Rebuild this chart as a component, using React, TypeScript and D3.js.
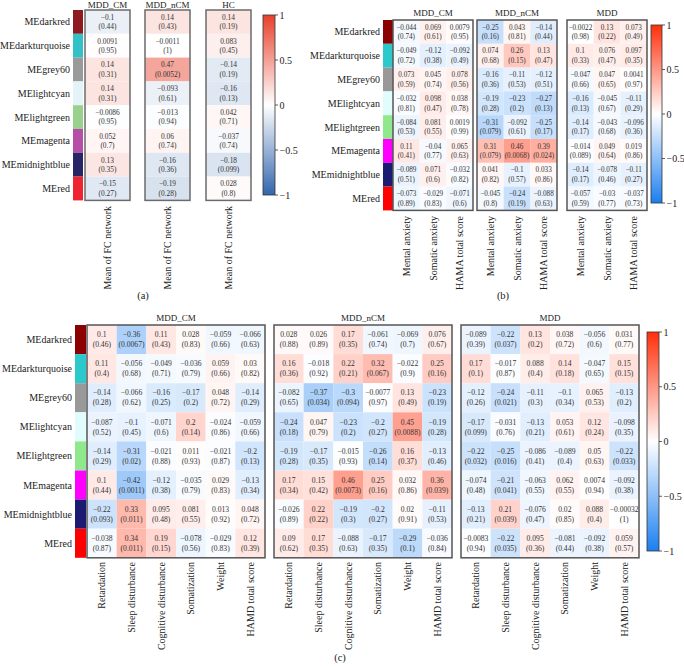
import { useEffect, useRef } from 'react';
import * as d3 from 'd3';

// Module eigengenes (rows) and their colour stripes
const modules = ["MEdarkred", "MEdarkturquoise", "MEgrey60", "MElightcyan", "MElightgreen", "MEmagenta", "MEmidnightblue", "MEred"];
const moduleColorsA = ["#8c1a1e", "#33c1c8", "#9a9a9a", "#e3f3f8", "#99d18c", "#b64ea8", "#272566", "#ee2530"];
const moduleColors = ["#8b0000", "#2bc9cc", "#999999", "#e0fcfc", "#8fe88c", "#ff00ff", "#1b1b72", "#ff0000"];

const groupsA = ["MDD_CM", "MDD_nCM", "HC"];
const groupsBC = ["MDD_CM", "MDD_nCM", "MDD"];

const fcItems = ["Mean of FC network"];
const hamaItems = ["Mental anxiety", "Somatic anxiety", "HAMA total score"];
const hamdItems = ["Retardation", "Sleep disturbance", "Cognitive disturbance", "Somatization", "Weight", "HAMD total score"];

const ticks = [1, 0.5, 0, -0.5, -1];

// (a) correlation with mean FC network, [group][module]
const fcR = [
  [-0.1, 0.0091, 0.14, 0.14, -0.0086, 0.052, 0.13, -0.15],
  [0.14, -0.0011, 0.47, -0.093, -0.013, 0.06, -0.16, -0.19],
  [0.14, 0.083, -0.14, -0.16, 0.042, -0.037, -0.18, 0.028],
];
const fcP = [
  [0.44, 0.95, 0.31, 0.31, 0.95, 0.7, 0.35, 0.27],
  [0.43, 1, 0.0052, 0.61, 0.94, 0.74, 0.36, 0.28],
  [0.19, 0.45, 0.19, 0.13, 0.71, 0.74, 0.099, 0.8],
];

// (b) HAMA, [group][module][item]
const hamaR = [
  [[-0.044, 0.069, 0.0079], [-0.049, -0.12, -0.092], [0.073, 0.045, 0.078], [-0.032, 0.098, 0.038],
   [-0.084, 0.081, 0.0019], [0.11, -0.04, 0.065], [-0.089, 0.071, -0.032], [-0.073, -0.029, -0.071]],
  [[-0.25, 0.043, -0.14], [0.074, 0.26, 0.13], [-0.16, -0.11, -0.12], [-0.19, -0.23, -0.27],
   [-0.31, -0.092, -0.25], [0.31, 0.46, 0.39], [0.041, -0.1, 0.033], [-0.045, -0.24, -0.088]],
  [[-0.0022, 0.13, 0.073], [0.1, 0.076, 0.097], [-0.047, 0.047, 0.0041], [-0.16, -0.045, -0.11],
   [-0.14, -0.043, -0.096], [-0.014, 0.049, 0.019], [-0.14, -0.078, -0.11], [-0.057, -0.03, -0.037]],
];
const hamaP = [
  [[0.74, 0.61, 0.95], [0.72, 0.38, 0.49], [0.59, 0.74, 0.56], [0.81, 0.47, 0.78],
   [0.53, 0.55, 0.99], [0.41, 0.77, 0.63], [0.51, 0.6, 0.82], [0.89, 0.83, 0.6]],
  [[0.16, 0.81, 0.44], [0.68, 0.15, 0.47], [0.36, 0.53, 0.51], [0.28, 0.2, 0.13],
   [0.079, 0.61, 0.17], [0.079, 0.0068, 0.024], [0.82, 0.57, 0.86], [0.8, 0.19, 0.63]],
  [[0.98, 0.22, 0.49], [0.33, 0.47, 0.35], [0.66, 0.65, 0.97], [0.13, 0.67, 0.29],
   [0.17, 0.68, 0.36], [0.089, 0.64, 0.86], [0.17, 0.46, 0.27], [0.59, 0.77, 0.73]],
];

// (c) HAMD, [group][module][item]
const hamdR = [
  [[0.1, -0.36, 0.11, 0.028, -0.059, -0.066], [0.11, -0.056, -0.049, -0.036, 0.059, 0.03],
   [-0.14, -0.066, -0.16, -0.17, 0.048, -0.14], [-0.087, -0.1, -0.071, 0.2, -0.024, -0.059],
   [-0.14, -0.31, -0.021, 0.011, -0.021, -0.2], [0.1, -0.42, -0.12, -0.035, 0.029, -0.13],
   [-0.22, 0.33, 0.095, 0.081, 0.013, 0.048], [-0.038, 0.34, 0.19, -0.078, -0.029, 0.12]],
  [[0.028, 0.026, 0.17, -0.061, -0.069, 0.076], [0.16, -0.018, 0.22, 0.32, -0.022, 0.25],
   [-0.082, -0.37, -0.3, -0.0077, 0.13, -0.23], [-0.24, 0.047, -0.23, -0.2, 0.45, -0.19],
   [-0.19, -0.17, -0.015, -0.26, 0.16, -0.13], [0.17, 0.15, 0.46, 0.25, 0.032, 0.36],
   [-0.026, 0.22, -0.19, -0.2, 0.02, -0.11], [0.09, 0.17, -0.088, -0.17, -0.29, -0.036]],
  [[-0.089, -0.22, 0.13, 0.038, -0.056, 0.031], [0.17, -0.017, 0.088, 0.14, -0.047, 0.15],
   [-0.12, -0.24, -0.11, -0.1, 0.065, -0.13], [-0.17, -0.031, -0.13, 0.053, 0.12, -0.098],
   [-0.22, -0.25, -0.086, -0.089, 0.05, -0.22], [-0.074, -0.21, -0.063, 0.062, 0.0074, -0.092],
   [-0.13, 0.21, -0.076, 0.02, 0.088, -0.00032], [-0.0083, -0.22, 0.095, -0.081, -0.092, 0.059]],
];
const hamdP = [
  [[0.46, 0.0067, 0.43, 0.83, 0.66, 0.63], [0.4, 0.68, 0.71, 0.79, 0.66, 0.82],
   [0.28, 0.62, 0.25, 0.2, 0.72, 0.29], [0.52, 0.45, 0.6, 0.14, 0.86, 0.66],
   [0.29, 0.02, 0.88, 0.93, 0.87, 0.13], [0.44, 0.0011, 0.38, 0.79, 0.83, 0.34],
   [0.093, 0.011, 0.48, 0.55, 0.92, 0.72], [0.87, 0.011, 0.15, 0.56, 0.83, 0.39]],
  [[0.88, 0.89, 0.35, 0.74, 0.7, 0.67], [0.36, 0.92, 0.21, 0.067, 0.9, 0.16],
   [0.65, 0.034, 0.094, 0.97, 0.49, 0.19], [0.18, 0.79, 0.2, 0.27, 0.0088, 0.28],
   [0.28, 0.35, 0.93, 0.14, 0.37, 0.46], [0.34, 0.42, 0.0073, 0.16, 0.86, 0.039],
   [0.89, 0.22, 0.3, 0.27, 0.91, 0.53], [0.62, 0.35, 0.63, 0.35, 0.1, 0.84]],
  [[0.39, 0.037, 0.2, 0.72, 0.6, 0.77], [0.1, 0.87, 0.4, 0.18, 0.65, 0.15],
   [0.26, 0.021, 0.3, 0.34, 0.53, 0.2], [0.099, 0.76, 0.21, 0.61, 0.24, 0.35],
   [0.032, 0.016, 0.41, 0.4, 0.63, 0.033], [0.48, 0.041, 0.55, 0.55, 0.94, 0.38],
   [0.21, 0.039, 0.47, 0.85, 0.4, 1], [0.94, 0.035, 0.36, 0.44, 0.38, 0.57]],
];

const fmt = (v: number) => String(v).replace('-', '\u2212');

interface PanelSpec {
  id: string;
  groups: string[];
  items: string[];
  r: number[][][];
  p: number[][][];
  stripeColors: string[];
  rowTop: number;
  rowH: number;
  stripeX: number;
  stripeW: number;
  blockX: number[];
  blockW: number;
  headerY: number;
  labelTop: number;
  bar: { x: number; y0: number; y1: number; w: number };
  colors: [string, string, string];
  caption: { x: number; y: number; text: string };
  cellFont: number;
  lineGap: number;
  border: string;
}

const panels: PanelSpec[] = [
  {
    id: 'a', groups: groupsA, items: fcItems,
    r: fcR.map(g => g.map(v => [v])), p: fcP.map(g => g.map(v => [v])),
    stripeColors: moduleColorsA,
    rowTop: 10, rowH: 23.8, stripeX: 73, stripeW: 10,
    blockX: [85, 145, 206], blockW: 45, headerY: 8, labelTop: 206,
    bar: { x: 263, y0: 15, y1: 195, w: 12 },
    colors: ['#3366ad', '#ffffff', '#e8402c'],
    caption: { x: 143, y: 299, text: '(a)' }, cellFont: 7.4, lineGap: 9.5, border: '#6b6b6b',
  },
  {
    id: 'b', groups: groupsBC, items: hamaItems,
    r: hamaR, p: hamaP, stripeColors: moduleColors,
    rowTop: 20, rowH: 23.8, stripeX: 383, stripeW: 10,
    blockX: [393, 477, 567], blockW: 80, headerY: 16, labelTop: 216,
    bar: { x: 651, y0: 25, y1: 203, w: 11 },
    colors: ['#1a7ff0', '#ffffff', '#ff2f0a'],
    caption: { x: 503, y: 299, text: '(b)' }, cellFont: 7.2, lineGap: 9.5, border: '#555555',
  },
  {
    id: 'c', groups: groupsBC, items: hamdItems,
    r: hamdR, p: hamdP, stripeColors: moduleColors,
    rowTop: 325, rowH: 29.1, stripeX: 75, stripeW: 11,
    blockX: [87, 274, 461], blockW: 178, headerY: 321, labelTop: 562,
    bar: { x: 647, y0: 332, y1: 551, w: 12 },
    colors: ['#1a7ff0', '#ffffff', '#ff2f0a'],
    caption: { x: 340, y: 661, text: '(c)' }, cellFont: 7.6, lineGap: 10, border: '#555555',
  },
];

const FONT = 'Liberation Serif, Times New Roman, DejaVu Serif, serif';

export default function App() {
  const svgRef = useRef<SVGSVGElement>(null);

  useEffect(() => {
    if (!svgRef.current) return;
    document.body.style.margin = '0';
    const svg = d3.select(svgRef.current);
    svg.selectAll('*').remove();
    const defs = svg.append('defs');

    panels.forEach(pn => {
      const g = svg.append('g').style('font-family', FONT);
      const color = d3.scaleLinear<string>().domain([-1, 0, 1]).range(pn.colors);
      const y = d3.scaleBand<string>()
        .domain(modules)
        .range([pn.rowTop, pn.rowTop + modules.length * pn.rowH]);

      // row labels and module colour stripe
      g.selectAll('.rowlab').data(modules).enter().append('text')
        .attr('x', pn.stripeX - 3)
        .attr('y', d => (y(d) || 0) + y.bandwidth() / 2)
        .attr('dy', '0.35em')
        .attr('text-anchor', 'end')
        .attr('font-size', 10)
        .attr('fill', '#222')
        .text(d => d);

      g.selectAll('.stripe').data(modules).enter().append('rect')
        .attr('x', pn.stripeX)
        .attr('y', d => y(d) || 0)
        .attr('width', pn.stripeW)
        .attr('height', y.bandwidth())
        .attr('fill', (d, i) => pn.stripeColors[i]);

      pn.groups.forEach((grp, gi) => {
        const x = d3.scaleBand<string>()
          .domain(pn.items)
          .range([pn.blockX[gi], pn.blockX[gi] + pn.blockW]);
        const cells = modules.flatMap((m, ri) =>
          pn.items.map((it, ci) => ({ m, it, r: pn.r[gi][ri][ci], p: pn.p[gi][ri][ci] })));

        const cg = g.selectAll(`.cell-${gi}`).data(cells).enter().append('g');
        cg.append('rect')
          .attr('x', d => x(d.it) || 0)
          .attr('y', d => y(d.m) || 0)
          .attr('width', x.bandwidth())
          .attr('height', y.bandwidth())
          .attr('fill', d => color(d.r));
        cg.append('text')
          .attr('x', d => (x(d.it) || 0) + x.bandwidth() / 2)
          .attr('y', d => (y(d.m) || 0) + y.bandwidth() / 2 - pn.lineGap / 2)
          .attr('dy', '0.35em')
          .attr('text-anchor', 'middle')
          .attr('font-size', pn.cellFont)
          .attr('fill', '#333')
          .text(d => fmt(d.r));
        cg.append('text')
          .attr('x', d => (x(d.it) || 0) + x.bandwidth() / 2)
          .attr('y', d => (y(d.m) || 0) + y.bandwidth() / 2 + pn.lineGap / 2)
          .attr('dy', '0.35em')
          .attr('text-anchor', 'middle')
          .attr('font-size', pn.cellFont)
          .attr('fill', '#333')
          .text(d => `(${fmt(d.p)})`);

        // block outline
        g.append('rect')
          .attr('x', pn.blockX[gi])
          .attr('y', pn.rowTop)
          .attr('width', pn.blockW)
          .attr('height', modules.length * pn.rowH)
          .attr('fill', 'none')
          .attr('stroke', pn.border)
          .attr('stroke-width', 1.5);

        g.append('text')
          .attr('x', pn.blockX[gi] + pn.blockW / 2)
          .attr('y', pn.headerY)
          .attr('text-anchor', 'middle')
          .attr('font-size', 9)
          .attr('fill', '#222')
          .text(grp);

        // rotated item labels under the block
        g.selectAll(`.collab-${gi}`).data(pn.items).enter().append('text')
          .attr('transform', d => `translate(${(x(d) || 0) + x.bandwidth() / 2},${pn.labelTop}) rotate(-90)`)
          .attr('dy', '0.35em')
          .attr('text-anchor', 'end')
          .attr('font-size', 10)
          .attr('fill', '#222')
          .text(d => d);
      });

      // colour bar
      const gid = `grad-${pn.id}`;
      const grad = defs.append('linearGradient')
        .attr('id', gid).attr('x1', 0).attr('y1', 1).attr('x2', 0).attr('y2', 0);
      d3.range(-1, 1.001, 0.1).forEach(v => {
        grad.append('stop').attr('offset', `${((v + 1) / 2) * 100}%`).attr('stop-color', color(v));
      });
      const by = d3.scaleLinear().domain([-1, 1]).range([pn.bar.y1, pn.bar.y0]);
      g.append('rect')
        .attr('x', pn.bar.x).attr('y', pn.bar.y0)
        .attr('width', pn.bar.w).attr('height', pn.bar.y1 - pn.bar.y0)
        .attr('fill', `url(#${gid})`)
        .attr('stroke', '#333').attr('stroke-width', 0.8);
      const tg = g.selectAll('.tick').data(ticks).enter().append('g')
        .attr('transform', d => `translate(${pn.bar.x + pn.bar.w},${by(d)})`);
      tg.append('line').attr('x1', 0).attr('x2', 3).attr('stroke', '#333').attr('stroke-width', 0.8);
      tg.append('text')
        .attr('x', 4.5)
        .attr('dy', '0.35em')
        .attr('font-size', 10)
        .attr('fill', '#222')
        .text(d => fmt(d));

      g.append('text')
        .attr('x', pn.caption.x).attr('y', pn.caption.y)
        .attr('text-anchor', 'middle')
        .attr('font-size', 10.5)
        .attr('fill', '#222')
        .text(pn.caption.text);
    });
  }, []);

  return <svg ref={svgRef} width={684} height={667} style={{ display: 'block', background: '#fff' }} />;
}
